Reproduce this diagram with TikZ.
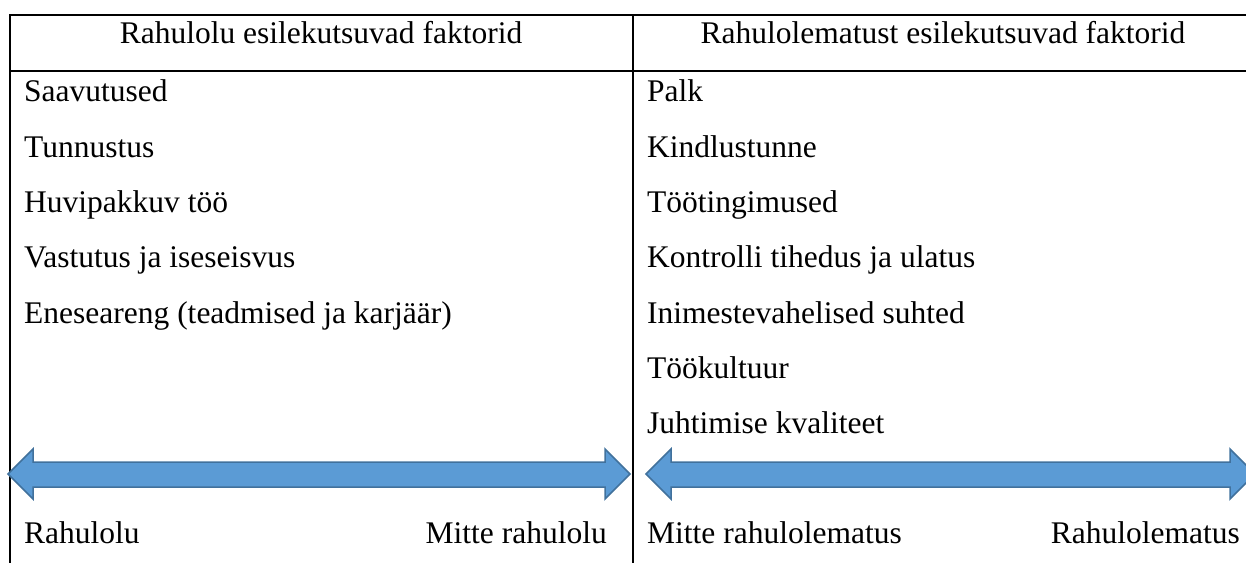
\documentclass[tikz,border=0pt]{standalone}
\usepackage{fontspec}
\setmainfont{Liberation Serif}
\definecolor{arrfill}{HTML}{5B9BD5}
\definecolor{arrline}{HTML}{41719C}
\begin{document}
\begin{tikzpicture}[x=1pt,y=-1pt,
  txt/.style={inner sep=0pt,anchor=base west,font=\fontsize{31.5}{36}\selectfont},
  txtr/.style={txt,anchor=base east},
  txtc/.style={txt,anchor=base},
  rule/.style={line width=2pt,black},
  blockarrow/.style={fill=arrfill,draw=arrline,line width=1.5pt,line join=miter}]
\useasboundingbox (0,0) rectangle (1246,563);
% table rules
\draw[rule] (10,15) -- (1246,15);
\draw[rule] (10,71) -- (1246,71);
\draw[rule] (10,14) -- (10,563);
\draw[rule] (633,14) -- (633,563);
% headers
\node[txtc] (h1) at (321,43) {Rahulolu esilekutsuvad faktorid};
\node[txtc] (h2) at (943,43) {Rahulolematust esilekutsuvad faktorid};
% left column
\node[txt] (l1) at (24,101) {Saavutused};
\node[txt] (l2) at (24,157) {Tunnustus};
\node[txt] (l3) at (24,212) {Huvipakkuv töö};
\node[txt] (l4) at (24,267) {Vastutus ja iseseisvus};
\node[txt] (l5) at (24,323) {Eneseareng (teadmised ja karjäär)};
% right column
\node[txt] (r1) at (647,101) {Palk};
\node[txt] (r2) at (647,157) {Kindlustunne};
\node[txt] (r3) at (647,212) {Töötingimused};
\node[txt] (r4) at (647,267) {Kontrolli tihedus ja ulatus};
\node[txt] (r5) at (647,323) {Inimestevahelised suhted};
\node[txt] (r6) at (647,378) {Töökultuur};
\node[txt] (r7) at (647,433) {Juhtimise kvaliteet};
% arrows
\draw[blockarrow] (8,474) -- (33,449) -- (33,462) -- (605,462) -- (605,449) -- (630,474)
  -- (605,499) -- (605,487) -- (33,487) -- (33,499) -- cycle;
\draw[blockarrow] (646,474) -- (671,449) -- (671,462) -- (1230,462) -- (1230,449) -- (1255,474)
  -- (1230,499) -- (1230,487) -- (671,487) -- (671,499) -- cycle;
% scale labels
\node[txt] (s1) at (24,543) {Rahulolu};
\node[txtr] (s2) at (607,543) {Mitte rahulolu};
\node[txt] (s3) at (647,543) {Mitte rahulolematus};
\node[txtr] (s4) at (1240,543) {Rahulolematus};
\end{tikzpicture}
\end{document}
